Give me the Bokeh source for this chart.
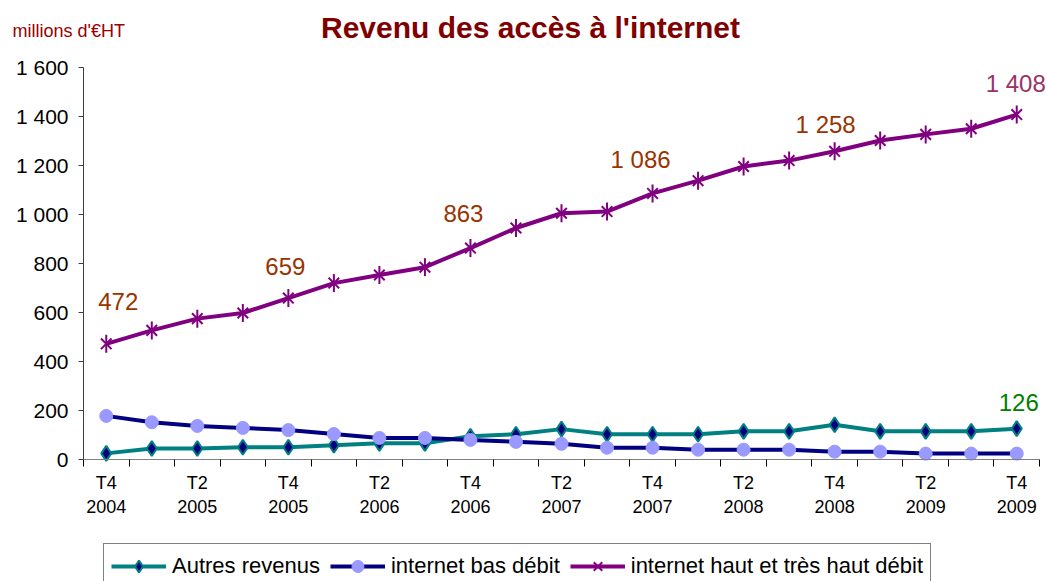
from bokeh.plotting import figure
from bokeh.models import (Range1d, FixedTicker, Legend, LegendItem, Label,
                          LabelSet, ColumnDataSource)
from bokeh.embed import file_html
from bokeh.resources import INLINE
from bokeh.core.properties import value
import math

# ---------------- data ----------------
quarters = ["T4\n2004",
            "T1\n2005", "T2\n2005", "T3\n2005", "T4\n2005",
            "T1\n2006", "T2\n2006", "T3\n2006", "T4\n2006",
            "T1\n2007", "T2\n2007", "T3\n2007", "T4\n2007",
            "T1\n2008", "T2\n2008", "T3\n2008", "T4\n2008",
            "T1\n2009", "T2\n2009", "T3\n2009", "T4\n2009"]

autres_revenus = [25, 45, 45, 50, 50, 58, 66, 66, 95, 103, 124, 103, 103,
                  103, 115, 115, 142, 115, 115, 115, 126]
bas_debit = [178, 152, 137, 129, 120, 104, 88, 88, 80, 72, 64, 48, 48,
             40, 40, 40, 32, 32, 24, 24, 24]
haut_debit = [472, 527, 575, 598, 659, 720, 753, 785, 863, 945, 1005, 1012,
              1086, 1138, 1196, 1220, 1258, 1302, 1327, 1350, 1408]

series_names = ["Autres revenus", "internet bas débit",
                "internet haut et très haut débit"]

y_ticks = [0, 200, 400, 600, 800, 1000, 1200, 1400, 1600]
y_tick_labels = ["0", "200", "400", "600", "800", "1 000", "1 200", "1 400", "1 600"]

haut_label_idx = [0, 4, 8, 12, 16, 20]
autres_label_idx = [20]

title_text = "Revenu des accès à l'internet"
unit_text = "millions d'€HT"

# ---------------- layout / styles ----------------
W, H = 1047, 581
AX_LEFT, AX_RIGHT = 83, 1039      # pixel span of the category axis
AX_BOTTOM, AX_TOP = 459, 67       # pixel span of the value axis (0 .. 1600)
Y_MAX = y_ticks[-1]
N = len(quarters)

px_cat = (AX_RIGHT - AX_LEFT) / N
px_val = (AX_BOTTOM - AX_TOP) / Y_MAX
x_start = -0.5 - AX_LEFT / px_cat
x_end = N - 0.5 + (W - AX_RIGHT) / px_cat
y_start = -(H - AX_BOTTOM) / px_val
y_end = Y_MAX + AX_TOP / px_val

FONT = "Liberation Sans"
C_TEAL = "#008080"
C_NAVY = "#000080"
C_LIGHTBLUE = "#9999FF"
C_PURPLE = "#800080"
C_BROWN = "#993300"
C_PLUM = "#993366"
C_GREEN = "#008000"

x = list(range(N))

p = figure(width=W, height=H, output_backend="svg", toolbar_location=None,
           title=None,
           x_range=Range1d(x_start, x_end), y_range=Range1d(y_start, y_end),
           min_border=0, min_border_left=0, min_border_right=0,
           min_border_top=0, min_border_bottom=0)
p.outline_line_color = None
p.xgrid.visible = False
p.ygrid.visible = False
p.background_fill_color = "white"
p.border_fill_color = "white"

# x axis: labels every other quarter, tick marks between categories
xa = p.xaxis[0]
xa.fixed_location = 0
xa.bounds = (-0.5, N - 0.5)
xa.ticker = FixedTicker(ticks=[i for i in x if i % 2 == 0],
                        minor_ticks=[i - 0.5 for i in range(N + 1)])
xa.major_label_overrides = {i: quarters[i] for i in x if i % 2 == 0}
xa.major_tick_out = 0
xa.major_tick_in = 0
xa.minor_tick_out = 7
xa.minor_tick_in = 0
xa.minor_tick_line_color = "#000000"
xa.axis_line_color = "#808080"
xa.axis_line_width = 1
xa.major_label_standoff = 6
xa.major_label_text_font = FONT
xa.major_label_text_font_size = "18px"
xa.major_label_text_color = "#000000"

ya = p.yaxis[0]
ya.fixed_location = -0.5
ya.bounds = (0, Y_MAX)
ya.ticker = FixedTicker(ticks=y_ticks, minor_ticks=[])
ya.major_label_overrides = {t: l for t, l in zip(y_ticks, y_tick_labels)}
ya.major_tick_out = 5
ya.major_tick_in = 0
ya.minor_tick_out = 0
ya.minor_tick_in = 0
ya.axis_line_color = "#404040"
ya.major_tick_line_color = "#404040"
ya.major_label_standoff = 10
ya.major_label_text_font = FONT
ya.major_label_text_font_size = "21px"
ya.major_label_text_color = "#000000"

# ---------------- series ----------------
l1 = p.line(x, autres_revenus, line_color=C_TEAL, line_width=4, line_join="round")
s1 = p.scatter(x, autres_revenus, marker="diamond", size=15, fill_color=C_NAVY,
               line_color=C_TEAL, line_width=2)

l2 = p.line(x, bas_debit, line_color=C_NAVY, line_width=4, line_join="round")
s2 = p.scatter(x, bas_debit, marker="circle", size=13, fill_color=C_LIGHTBLUE,
               line_color=C_LIGHTBLUE, line_width=1)

l3 = p.line(x, haut_debit, line_color=C_PURPLE, line_width=4, line_join="round")
s3a = p.scatter(x, haut_debit, marker="x", size=15, line_color=C_PURPLE, line_width=2)
s3b = p.scatter(x, haut_debit, marker="dash", size=18, angle=math.pi / 2,
                line_color=C_PURPLE, line_width=2)

# ---------------- data labels ----------------
def fmt(v):
    return f"{v:,}".replace(",", " ")

lab_x = [x[i] for i in haut_label_idx] + [x[i] for i in autres_label_idx]
lab_y = [haut_debit[i] for i in haut_label_idx] + [autres_revenus[i] for i in autres_label_idx]
lab_t = [fmt(haut_debit[i]) for i in haut_label_idx] + [fmt(autres_revenus[i]) for i in autres_label_idx]
lab_c = [C_BROWN] * 5 + [C_PLUM] + [C_GREEN]
lab_dx = [12, -3, -7, -12, -9, -1, 2]
lab_dy = [42, 32, 35, 34, 27, 31, 26]

lsrc = ColumnDataSource(dict(x=lab_x, y=lab_y, t=lab_t, c=lab_c, dx=lab_dx, dy=lab_dy))
p.add_layout(LabelSet(x="x", y="y", text="t", source=lsrc, x_offset="dx", y_offset="dy",
                      text_color="c", text_font=value(FONT), text_font_size="24px",
                      text_align="center", text_baseline="middle"))

# ---------------- titles ----------------
p.add_layout(Label(x=-0.5, y=Y_MAX, x_offset=447, y_offset=40, text=title_text,
                   text_font=FONT, text_font_size="30px", text_font_style="bold",
                   text_color="#800000", text_align="center", text_baseline="alphabetic"))
p.add_layout(Label(x=-0.5, y=Y_MAX, x_offset=-71, y_offset=37, text=unit_text,
                   text_font=FONT, text_font_size="18px", text_color="#990000",
                   text_align="left", text_baseline="alphabetic"))

# ---------------- legend ----------------
legend = Legend(items=[LegendItem(label=series_names[0], renderers=[l1, s1]),
                       LegendItem(label=series_names[1], renderers=[l2, s2]),
                       LegendItem(label=series_names[2], renderers=[l3, s3a, s3b])],
                orientation="horizontal", location=(103, -8))
legend.border_line_color = "#000000"
legend.border_line_width = 1
legend.background_fill_color = "white"
legend.background_fill_alpha = 1
legend.label_text_font = FONT
legend.label_text_font_size = "22px"
legend.label_text_color = "#000000"
legend.glyph_width = 55
legend.glyph_height = 30
legend.label_standoff = 6
legend.spacing = 10
legend.padding = 7
legend.margin = 0
p.add_layout(legend)

open("out.html", "w").write(file_html(p, INLINE))
